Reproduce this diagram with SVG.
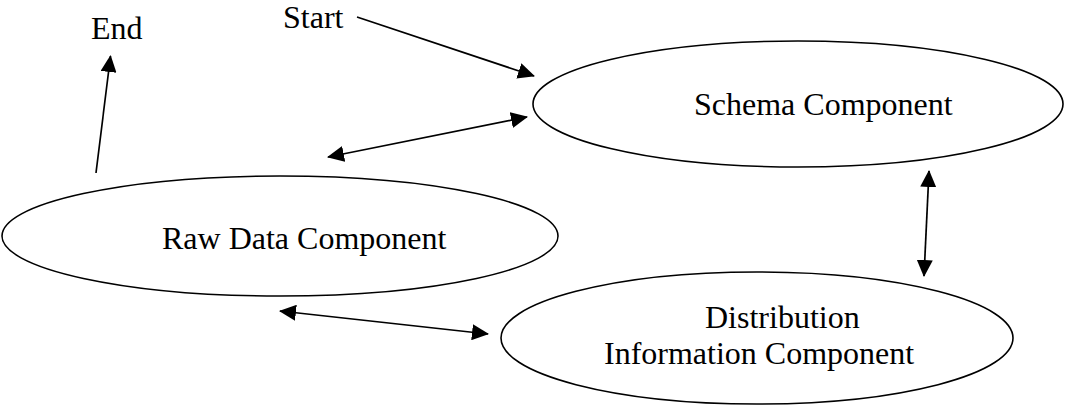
<svg xmlns="http://www.w3.org/2000/svg" width="1066" height="406" viewBox="0 0 1066 406">
<style>
.node ellipse{fill:#fff;stroke:#000;stroke-width:1.6}
text{font-family:"Liberation Serif","Times New Roman",serif;font-size:32px;fill:#000}
.conn line{stroke:#000;stroke-width:1.7}
</style>
<defs>
<marker id="ah" markerUnits="userSpaceOnUse" markerWidth="17" markerHeight="16" viewBox="0 0 17 16" refX="16" refY="8" orient="auto-start-reverse">
<path d="M0,0 L17,8 L0,16 z" fill="#000"/>
</marker>
</defs>
<rect width="1066" height="406" fill="#fff"/>
<g id="schema" class="node">
<ellipse cx="798" cy="104" rx="265" ry="63"/>
<text x="694" y="115">Schema Component</text>
</g>
<g id="raw" class="node">
<ellipse cx="280" cy="236" rx="278" ry="60"/>
<text x="162" y="249">Raw Data Component</text>
</g>
<g id="dist" class="node">
<ellipse cx="757" cy="338" rx="256" ry="66"/>
<text x="705" y="328">Distribution</text>
<text x="604" y="364">Information Component</text>
</g>
<g id="start" class="node"><text x="283" y="28">Start</text></g>
<g id="end" class="node"><text x="91" y="39">End</text></g>
<g id="connectors" class="conn">
<line x1="96" y1="173" x2="110.5" y2="56" marker-end="url(#ah)"/>
<line x1="357" y1="17" x2="534" y2="76" marker-end="url(#ah)"/>
<line x1="328" y1="157" x2="527" y2="117" marker-start="url(#ah)" marker-end="url(#ah)"/>
<line x1="929" y1="171" x2="924" y2="276" marker-start="url(#ah)" marker-end="url(#ah)"/>
<line x1="280" y1="311" x2="488" y2="334" marker-start="url(#ah)" marker-end="url(#ah)"/>
</g>
</svg>
